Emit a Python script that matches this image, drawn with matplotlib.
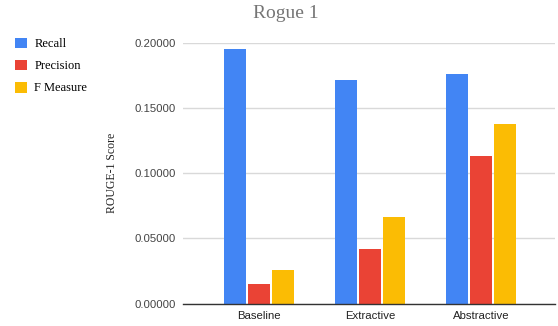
import numpy as np
import matplotlib.pyplot as plt

# ROUGE-1 scores per summarisation method
methods = ['Baseline', 'Extractive', 'Abstractive']
recall = [0.1950, 0.1715, 0.1762]
precision = [0.0151, 0.0416, 0.1131]
f_measure = [0.0256, 0.0666, 0.1374]
yticks = [0.0, 0.05, 0.10, 0.15, 0.20]

colors = ['#4285F4', '#EA4335', '#FBBC04']
serif = ['Liberation Serif', 'DejaVu Serif']
sans = ['Liberation Sans', 'DejaVu Sans']

fig = plt.figure(figsize=(5.58, 3.26), dpi=100)
ax = fig.add_axes([0.328, 0.0684, 0.6666, 0.8012])

x = np.arange(len(methods))
w = 0.198
step = 0.216
bars = []
for i, (vals, lab) in enumerate(zip([recall, precision, f_measure],
                                    ['Recall', 'Precision', 'F Measure'])):
    b = ax.bar(x + (i - 1) * step, vals, w, color=colors[i], label=lab, zorder=3)
    bars.append(b)

ax.set_xlim(-0.685, 2.667)
ax.set_ylim(0, 0.2)
ax.set_yticks(yticks)
ax.set_yticklabels([f'{v:.5f}' for v in yticks], family=sans, fontsize=8.2, color='#444444')
ax.set_xticks(x)
ax.set_xticklabels(methods, family=sans, fontsize=8.2, color='#222222')
ax.tick_params(length=0, pad=5)
ax.tick_params(axis='x', pad=5)
ax.grid(axis='y', color='#d9d9d9', linewidth=1, zorder=0)
ax.set_axisbelow(True)
for s in ['top', 'right', 'left']:
    ax.spines[s].set_visible(False)
ax.spines['bottom'].set_color('#333333')
ax.spines['bottom'].set_linewidth(1)
ax.spines['bottom'].set_zorder(4)

ax.set_ylabel('ROUGE-1 Score', family=serif, fontsize=8.5, color='#222222', labelpad=12)
fig.text(0.512, 0.958, 'Rogue 1', family=serif, fontsize=14, color='#757575',
         ha='center', va='center')

fig.legend(handles=bars, loc='upper left', bbox_to_anchor=(0.018, 0.9),
           frameon=False, prop={'family': serif, 'size': 9},
           handlelength=0.95, handleheight=0.95, handletextpad=0.6,
           labelspacing=0.75, borderaxespad=0)

fig.savefig('out.png', dpi=100)
